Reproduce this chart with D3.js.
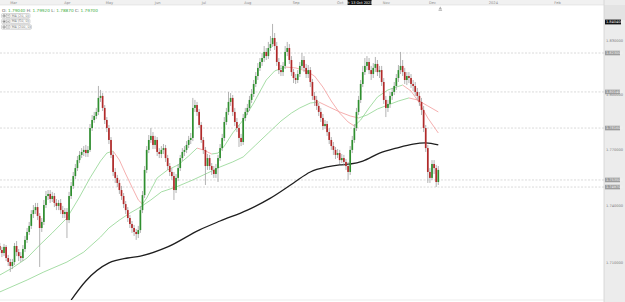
<!DOCTYPE html>
<html>
<head>
<meta charset="utf-8">
<script src="https://cdn.jsdelivr.net/npm/d3@7"></script>
<style>
body { margin: 0; background: #fff; }
svg text { font-family: "DejaVu Sans", Arial, sans-serif; }
</style>
</head>
<body>
<svg width="625" height="302"></svg>
<script>
// daily candles, trading-day index -9 (16 Feb 2023) .. 200 (6 Dec 2023); index 0 = 1 Mar 2023
const firstIndex = -9;
const candles = [
[1.7184,1.7200,1.7147,1.7163],[1.7163,1.7179,1.7126,1.7147],[1.7147,1.7195,1.7131,1.7179],[1.7179,1.7189,1.7105,1.7121],[1.7121,1.7137,1.7079,1.7100],
[1.7100,1.7116,1.7048,1.7079],[1.7079,1.7116,1.7063,1.7100],[1.7100,1.7200,1.7084,1.7184],[1.7184,1.7210,1.7131,1.7152],[1.7152,1.7168,1.7105,1.7131],
[1.7131,1.7152,1.7100,1.7121],[1.7121,1.7189,1.7105,1.7168],[1.7168,1.7237,1.7152,1.7216],[1.7216,1.7279,1.7200,1.7258],[1.7258,1.7311,1.7242,1.7290],
[1.7290,1.7374,1.7274,1.7353],[1.7353,1.7401,1.7332,1.7374],[1.7374,1.7412,1.7353,1.7390],[1.7390,1.7412,1.7321,1.7343],[1.7343,1.7358,1.7074,1.7279],
[1.7279,1.7332,1.7258,1.7311],[1.7311,1.7428,1.7295,1.7401],[1.7401,1.7476,1.7385,1.7449],[1.7449,1.7481,1.7428,1.7460],[1.7460,1.7481,1.7412,1.7433],
[1.7433,1.7471,1.7417,1.7449],[1.7449,1.7465,1.7390,1.7412],[1.7412,1.7433,1.7374,1.7396],[1.7396,1.7428,1.7374,1.7412],[1.7412,1.7433,1.7353,1.7374],
[1.7374,1.7396,1.7332,1.7353],[1.7353,1.7385,1.7332,1.7364],[1.7364,1.7385,1.7226,1.7321],[1.7321,1.7471,1.7305,1.7449],[1.7449,1.7524,1.7433,1.7503],
[1.7503,1.7578,1.7487,1.7556],[1.7556,1.7621,1.7540,1.7599],[1.7599,1.7664,1.7583,1.7642],[1.7642,1.7691,1.7626,1.7670],[1.7670,1.7707,1.7653,1.7686],
[1.7686,1.7718,1.7664,1.7697],[1.7697,1.7724,1.7659,1.7680],[1.7680,1.7718,1.7659,1.7697],[1.7697,1.7838,1.7686,1.7816],[1.7816,1.7887,1.7800,1.7860],
[1.7860,1.7904,1.7844,1.7882],[1.7882,1.7926,1.7865,1.7904],[1.7904,1.8047,1.7887,1.7981],[1.7981,1.8025,1.7959,1.7992],[1.7992,1.8008,1.7909,1.7926],
[1.7926,1.7942,1.7838,1.7860],[1.7860,1.7876,1.7794,1.7816],[1.7816,1.7833,1.7729,1.7751],[1.7751,1.7767,1.7653,1.7670],[1.7670,1.7686,1.7556,1.7578],
[1.7578,1.7599,1.7519,1.7546],[1.7546,1.7562,1.7497,1.7519],[1.7519,1.7535,1.7460,1.7481],[1.7481,1.7503,1.7428,1.7449],[1.7449,1.7465,1.7385,1.7406],
[1.7406,1.7422,1.7353,1.7374],[1.7374,1.7390,1.7311,1.7332],[1.7332,1.7348,1.7279,1.7300],[1.7300,1.7316,1.7253,1.7279],[1.7279,1.7295,1.7237,1.7258],
[1.7258,1.7274,1.7216,1.7247],[1.7247,1.7290,1.7226,1.7268],[1.7268,1.7396,1.7253,1.7374],[1.7374,1.7476,1.7358,1.7454],[1.7454,1.7610,1.7438,1.7589],
[1.7589,1.7718,1.7572,1.7697],[1.7697,1.7778,1.7680,1.7751],[1.7751,1.7816,1.7735,1.7773],[1.7773,1.7794,1.7702,1.7724],[1.7724,1.7773,1.7702,1.7751],
[1.7751,1.7767,1.7664,1.7686],[1.7686,1.7707,1.7653,1.7675],[1.7675,1.7718,1.7653,1.7697],[1.7697,1.7729,1.7675,1.7707],[1.7707,1.7724,1.7632,1.7653],
[1.7653,1.7670,1.7589,1.7610],[1.7610,1.7626,1.7556,1.7578],[1.7578,1.7599,1.7535,1.7556],[1.7556,1.7578,1.7428,1.7481],[1.7481,1.7567,1.7465,1.7546],
[1.7546,1.7621,1.7529,1.7599],[1.7599,1.7670,1.7583,1.7653],[1.7653,1.7707,1.7637,1.7686],[1.7686,1.7718,1.7664,1.7697],[1.7697,1.7745,1.7680,1.7724],
[1.7724,1.7773,1.7707,1.7751],[1.7751,1.7789,1.7729,1.7762],[1.7762,1.7981,1.7745,1.7926],[1.7926,1.7970,1.7904,1.7942],[1.7942,1.7959,1.7882,1.7904],
[1.7904,1.7920,1.7816,1.7833],[1.7833,1.7849,1.7735,1.7751],[1.7751,1.7767,1.7675,1.7697],[1.7697,1.7713,1.7508,1.7610],[1.7610,1.7675,1.7589,1.7653],
[1.7653,1.7670,1.7589,1.7610],[1.7610,1.7626,1.7562,1.7589],[1.7589,1.7610,1.7546,1.7567],[1.7567,1.7621,1.7546,1.7599],[1.7599,1.7670,1.7524,1.7653],
[1.7653,1.7729,1.7637,1.7707],[1.7707,1.7784,1.7691,1.7762],[1.7762,1.7876,1.7745,1.7849],[1.7849,1.7926,1.7833,1.7904],[1.7904,1.8014,1.7887,1.7959],
[1.7959,1.8008,1.7937,1.7981],[1.7981,1.7997,1.7882,1.7904],[1.7904,1.7926,1.7827,1.7849],[1.7849,1.7871,1.7794,1.7816],[1.7816,1.7833,1.7713,1.7762],
[1.7762,1.7784,1.7718,1.7740],[1.7740,1.7893,1.7724,1.7871],[1.7871,1.7926,1.7854,1.7904],[1.7904,1.7948,1.7887,1.7926],[1.7926,1.7992,1.7909,1.7970],
[1.7970,1.8030,1.7953,1.8003],[1.8003,1.8080,1.7986,1.8058],[1.8058,1.8124,1.8041,1.8102],[1.8102,1.8174,1.8080,1.8147],[1.8147,1.8202,1.8130,1.8180],
[1.8180,1.8230,1.8158,1.8202],[1.8202,1.8269,1.8180,1.8236],[1.8236,1.8258,1.8191,1.8213],[1.8213,1.8292,1.8197,1.8258],[1.8258,1.8325,1.8241,1.8280],
[1.8280,1.8393,1.8264,1.8314],[1.8314,1.8342,1.8247,1.8269],[1.8269,1.8292,1.8158,1.8180],[1.8180,1.8202,1.8113,1.8135],[1.8135,1.8163,1.8102,1.8124],
[1.8124,1.8180,1.8102,1.8158],[1.8158,1.8269,1.8141,1.8236],[1.8236,1.8292,1.8213,1.8258],[1.8258,1.8280,1.8169,1.8191],[1.8191,1.8213,1.8102,1.8124],
[1.8124,1.8141,1.8063,1.8091],[1.8091,1.8113,1.8058,1.8080],[1.8080,1.8135,1.8063,1.8113],[1.8113,1.8180,1.8097,1.8158],[1.8158,1.8230,1.8141,1.8191],
[1.8191,1.8213,1.8124,1.8147],[1.8147,1.8169,1.8091,1.8113],[1.8113,1.8163,1.8091,1.8135],[1.8135,1.8152,1.8041,1.8069],[1.8069,1.8086,1.7970,1.7992],
[1.7992,1.8014,1.7937,1.7970],[1.7970,1.7992,1.7915,1.7937],[1.7937,1.7953,1.7882,1.7904],[1.7904,1.7926,1.7849,1.7871],[1.7871,1.7893,1.7805,1.7827],
[1.7827,1.7860,1.7811,1.7838],[1.7838,1.7854,1.7773,1.7794],[1.7794,1.7816,1.7729,1.7751],[1.7751,1.7767,1.7697,1.7718],[1.7718,1.7740,1.7670,1.7697],
[1.7697,1.7713,1.7648,1.7670],[1.7670,1.7702,1.7653,1.7680],[1.7680,1.7697,1.7621,1.7642],[1.7642,1.7675,1.7626,1.7653],[1.7653,1.7670,1.7610,1.7632],
[1.7632,1.7648,1.7589,1.7610],[1.7610,1.7632,1.7535,1.7578],[1.7578,1.7718,1.7562,1.7697],[1.7697,1.7773,1.7680,1.7751],[1.7751,1.7838,1.7735,1.7816],
[1.7816,1.7926,1.7800,1.7904],[1.7904,1.7992,1.7887,1.7970],[1.7970,1.8080,1.7953,1.8058],[1.8058,1.8158,1.8041,1.8124],[1.8124,1.8202,1.8108,1.8158],
[1.8158,1.8213,1.8135,1.8180],[1.8180,1.8202,1.8113,1.8135],[1.8135,1.8158,1.8080,1.8113],[1.8113,1.8174,1.8091,1.8147],[1.8147,1.8208,1.8124,1.8169],
[1.8169,1.8191,1.8102,1.8124],[1.8124,1.8158,1.8091,1.8135],[1.8135,1.8158,1.8047,1.8069],[1.8069,1.8091,1.7948,1.7970],[1.7970,1.7992,1.7876,1.7926],
[1.7926,1.7970,1.7904,1.7948],[1.7948,1.8014,1.7926,1.7992],[1.7992,1.8036,1.7970,1.8014],[1.8014,1.8069,1.7997,1.8047],[1.8047,1.8113,1.8025,1.8091],
[1.8091,1.8163,1.8069,1.8135],[1.8135,1.8236,1.8113,1.8158],[1.8158,1.8191,1.8102,1.8124],[1.8124,1.8147,1.8058,1.8080],[1.8080,1.8124,1.8052,1.8102],
[1.8102,1.8124,1.8063,1.8091],[1.8091,1.8113,1.8036,1.8058],[1.8058,1.8080,1.8019,1.8047],[1.8047,1.8069,1.7992,1.8014],[1.8014,1.8036,1.7970,1.7992],
[1.7992,1.8014,1.7937,1.7959],[1.7959,1.7981,1.7887,1.7915],[1.7915,1.7937,1.7794,1.7816],[1.7816,1.7833,1.7686,1.7707],[1.7707,1.7724,1.7519,1.7578],
[1.7578,1.7599,1.7519,1.7546],[1.7546,1.7642,1.7535,1.7621],[1.7621,1.7642,1.7567,1.7599],[1.7599,1.7616,1.7497,1.7524],[1.7524,1.7610,1.7508,1.7589]
];

// moving averages: [trading-day index, price]
const ma20 = [[-9,1.7032],[-3,1.7069],[4,1.7121],[10,1.7189],[16,1.7253],[23,1.7332],[29,1.7444],[34,1.7546],[39,1.7637],[42,1.7680],[45,1.7691],
  [48,1.7642],[51,1.7567],[54,1.7497],[57,1.7428],[59,1.7406],[61,1.7438],[66,1.7546],[71,1.7589],[76,1.7616],[81,1.7664],[85,1.7707],
  [88,1.7697],[92,1.7675],[95,1.7680],[98,1.7718],[102,1.7789],[107,1.7860],[112,1.7953],[118,1.8080],[122,1.8130],[127,1.8152],
  [132,1.8147],[137,1.8130],[141,1.8102],[145,1.8041],[149,1.7964],[153,1.7898],[157,1.7849],[160,1.7827],[163,1.7860],[167,1.7926],
  [171,1.7986],[176,1.8025],[180,1.8041],[183,1.8052],[187,1.8019],[191,1.7953],[195,1.7871],[200,1.7789]];
const ma50 = [[-9,1.6944],[4,1.7006],[12,1.7048],[23,1.7100],[31,1.7152],[39,1.7231],[43,1.7279],[48,1.7321],[53,1.7358],[58,1.7390],
  [63,1.7428],[68,1.7471],[75,1.7497],[83,1.7535],[90,1.7572],[96,1.7605],[102,1.7632],[107,1.7659],[113,1.7724],[119,1.7789],
  [125,1.7854],[130,1.7898],[134,1.7926],[139,1.7953],[143,1.7959],[148,1.7931],[153,1.7904],[158,1.7882],[162,1.7871],[166,1.7887],
  [171,1.7920],[176,1.7942],[181,1.7964],[186,1.7981],[190,1.7970],[195,1.7937],[200,1.7904]];
const ma200 = [[25,1.6902],[32,1.7001],[43,1.7095],[52,1.7121],[58,1.7131],[71,1.7179],[86,1.7268],[96,1.7316],[109,1.7374],
  [120,1.7438],[131,1.7519],[139,1.7578],[147,1.7605],[153,1.7616],[158,1.7621],[164,1.7637],[172,1.7680],[180,1.7707],
  [188,1.7729],[194,1.7735],[200,1.7724]];

const monthLabels = ["Mar","Apr","May","Jun","Jul","Aug","Sep","Oct","Nov","Dec","2024","Feb"];
const monthIndex = [-2.7,23,43,66,88,109,132,153,175,197,226,256.6];
const priceTicks = [1.71,1.74,1.77,1.80,1.83];
const levels = [1.8230,1.8014,1.7816,1.7535,1.7497];
const maNames = ["MA (20, 0)","MA (50, 0)","MA (200, 0)"];
const crossIndex = 162, crossDate = "Fr 13 Oct 2023", crossPrice = 1.8404;
const priceMin = 1.69022, priceMax = 1.85;

const svg = d3.select("svg");
const plotRight = 604, plotTop = 5, plotBottom = 300;
const x = d3.scaleLinear().domain([0, 200]).range([18.7, 438.3]);
const y = d3.scaleLog().domain([priceMin, priceMax]).range([plotBottom, plotTop]);
const green = "#8fd48f", red = "#f39a9a";

svg.append("rect").attr("width", 625).attr("height", 302).attr("fill", "#fff");
svg.append("clipPath").attr("id", "plot").append("rect")
  .attr("x", 0).attr("y", plotTop).attr("width", plotRight).attr("height", plotBottom - plotTop);

// top time band and right price band
svg.append("rect").attr("x", 0).attr("y", 0).attr("width", 625).attr("height", plotTop).attr("fill", "#f1f1f1");
svg.append("line").attr("x1", 0).attr("x2", 625).attr("y1", plotTop).attr("y2", plotTop).attr("stroke", "#dcdcdc").attr("stroke-width", 0.6);
svg.append("rect").attr("x", plotRight).attr("y", 0).attr("width", 625 - plotRight).attr("height", 302).attr("fill", "#ececec");
svg.append("rect").attr("x", plotRight).attr("y", plotTop).attr("width", 625 - plotRight).attr("height", 15).attr("fill", "#e3e3e3");
svg.append("line").attr("x1", plotRight).attr("x2", plotRight).attr("y1", 0).attr("y2", 302).attr("stroke", "#d2d2d2").attr("stroke-width", 0.8);
svg.append("line").attr("x1", 0).attr("x2", plotRight).attr("y1", plotBottom).attr("y2", plotBottom).attr("stroke", "#e0e0e0").attr("stroke-width", 0.6);

let plot = svg.append("g").attr("clip-path", "url(#plot)");

// horizontal levels
plot.append("g").selectAll("line").data(levels).enter().append("line")
  .attr("x1", 0).attr("x2", plotRight)
  .attr("y1", d => y(d)).attr("y2", d => y(d))
  .attr("stroke", "#cccccc").attr("stroke-width", 0.7).attr("stroke-dasharray", "2,1.5");

// moving averages, coloured by slope
let seg = d3.line().x(d => x(d[0])).y(d => y(d[1]));
[ma50, ma20].forEach(ma => {
  let pairs = d3.pairs(ma);
  plot.append("g").selectAll("path").data(pairs).enter().append("path")
    .attr("d", d => seg(d))
    .attr("fill", "none")
    .attr("stroke", d => d[1][1] >= d[0][1] ? green : red)
    .attr("stroke-width", 0.8);
});
plot.append("path").datum(ma200)
  .attr("d", d3.line().x(d => x(d[0])).y(d => y(d[1])).curve(d3.curveMonotoneX))
  .attr("fill", "none").attr("stroke", "#1e1e1e").attr("stroke-width", 1.3);

// candles
let bars = candles.map((d, k) => ({ i: firstIndex + k, o: d[0], h: d[1], l: d[2], c: d[3] }));
let gc = plot.append("g");
gc.selectAll("line").data(bars).enter().append("line")
  .attr("x1", d => x(d.i)).attr("x2", d => x(d.i))
  .attr("y1", d => y(d.h)).attr("y2", d => y(d.l))
  .attr("stroke", "#a0a0a0").attr("stroke-width", 0.8);
gc.selectAll("rect").data(bars).enter().append("rect")
  .attr("x", d => x(d.i) - 0.85).attr("width", 1.7)
  .attr("y", d => y(Math.max(d.o, d.c)))
  .attr("height", d => Math.max(0.6, Math.abs(y(d.o) - y(d.c))))
  .attr("fill", d => d.c >= d.o ? "#2f8f2f" : "#b22a2a");

// time axis
let xa = svg.append("g").attr("transform", `translate(0,${plotTop - 1})`)
  .call(d3.axisTop(x).tickValues(monthIndex).tickSize(0).tickPadding(0)
    .tickFormat((d, k) => monthLabels[k]));
xa.select(".domain").remove();
xa.selectAll("text").attr("font-size", 3.6).attr("fill", "#8a8a8a");

// price axis
let ya = svg.append("g").attr("transform", `translate(${plotRight + 1},0)`)
  .call(d3.axisRight(y).tickValues(priceTicks).tickSize(0).tickPadding(1).tickFormat(d3.format(".6f")));
ya.select(".domain").remove();
ya.selectAll("text").attr("font-size", 3.6).attr("fill", "#7a7a7a").attr("text-anchor", "start");

// level boxes on the price axis
let lb = svg.append("g").selectAll("g").data(levels).enter().append("g")
  .attr("transform", d => `translate(${plotRight + 1},${y(d)})`);
lb.append("rect").attr("x", 0).attr("y", -2.3).attr("width", 15).attr("height", 4.6).attr("fill", "#9d9d9d");
lb.append("text").attr("x", 1).attr("y", 1.3).attr("font-size", 3.5).attr("fill", "#f5f5f5")
  .text(d => d3.format(".6f")(d));

// crosshair labels
let cp = svg.append("g").attr("transform", `translate(${plotRight + 1},${y(crossPrice)})`);
cp.append("rect").attr("x", 0).attr("y", -2.4).attr("width", 16).attr("height", 4.8).attr("fill", "#111");
cp.append("text").attr("x", 1).attr("y", 1.3).attr("font-size", 3.5).attr("fill", "#fff").text(d3.format(".6f")(crossPrice));
let cd = svg.append("g").attr("transform", `translate(${x(crossIndex)},0)`);
cd.append("rect").attr("x", -11).attr("y", 0).attr("width", 24).attr("height", plotTop).attr("fill", "#111");
cd.append("text").attr("x", 1).attr("y", 3.7).attr("text-anchor", "middle").attr("font-size", 3.5).attr("fill", "#fff").text(crossDate);

// marker at the last bar
svg.append("path")
  .attr("transform", `translate(${x(200) + 2},6)`)
  .attr("d", "M-1.8,3.6 L0,0.6 L1.8,3.6 Z M-1.8,4.3 H1.8 V5 H-1.8 Z")
  .attr("fill", "#b0b0b0");

// legend
let cb = bars.find(d => d.i === crossIndex);
let fmt = d3.format(".5f");
let ohlc = svg.append("text").attr("x", 2).attr("y", 11.5).attr("font-size", 4.2);
[["O: ", cb.o], [" H: ", cb.h], [" L: ", cb.l], [" C: ", cb.c]].forEach(p => {
  ohlc.append("tspan").attr("fill", "#555").text(p[0]);
  ohlc.append("tspan").attr("fill", "#3fae3f").text(fmt(p[1]));
});
let lg = svg.append("g").selectAll("g").data(maNames).enter().append("g")
  .attr("transform", (d, k) => `translate(1.5,${13.5 + k * 5.6})`);
lg.append("rect").attr("x", 0).attr("y", 0).attr("width", (d, k) => k === 2 ? 30 : 28.5).attr("height", 4.6)
  .attr("rx", 1.2).attr("fill", "#fff").attr("stroke", "#b5b5b5").attr("stroke-width", 0.5);
lg.append("circle").attr("cx", 2.6).attr("cy", 2.3).attr("r", 1.5).attr("fill", "#d8d8d8").attr("stroke", "#8a8a8a").attr("stroke-width", 0.4);
lg.append("circle").attr("cx", 2.6).attr("cy", 2.3).attr("r", 0.6).attr("fill", "#555");
lg.append("rect").attr("x", 5).attr("y", 0.9).attr("width", 3.4).attr("height", 2.8).attr("fill", "#fff").attr("stroke", "#999").attr("stroke-width", 0.4);
lg.append("line").attr("x1", 5.8).attr("x2", 7.6).attr("y1", 2.3).attr("y2", 2.3).attr("stroke", "#555").attr("stroke-width", 0.5);
lg.append("rect").attr("x", 9.2).attr("y", 0.6).attr("width", (d, k) => k === 2 ? 19.8 : 18.3).attr("height", 3.4)
  .attr("rx", 0.8).attr("fill", "#fff").attr("stroke", "#bbb").attr("stroke-width", 0.4);
lg.append("text").attr("x", 10.2).attr("y", 3.3).attr("font-size", 3.3).attr("fill", "#777").text(d => d);
</script>
</body>
</html>
